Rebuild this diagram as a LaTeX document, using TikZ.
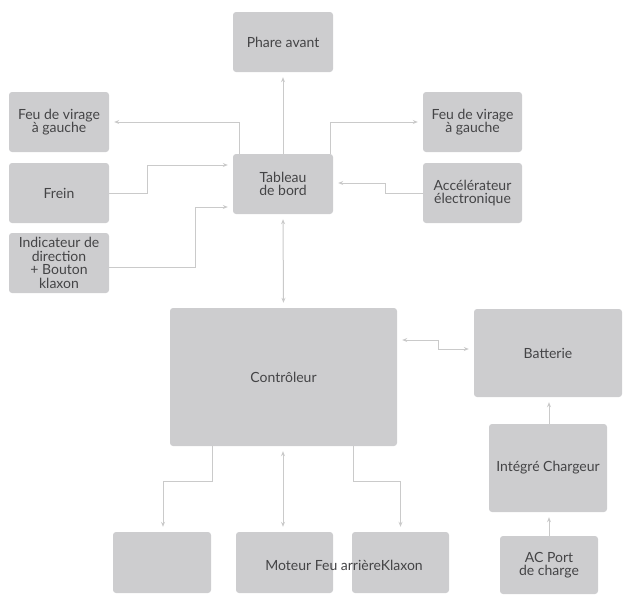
\documentclass[tikz,border=0pt]{standalone}
\usepackage{fontspec}
\setmainfont{Lato}
\usetikzlibrary{arrows.meta}
\definecolor{boxgray}{HTML}{CDCDCF}
\definecolor{linegray}{HTML}{CACACA}
\definecolor{txtgray}{HTML}{444446}
\tikzset{
  blk/.style={fill=boxgray, draw=none, rounded corners=3pt, inner sep=0pt, text=txtgray,
    font=\fontsize{14}{13.5}\selectfont, align=center},
  conn/.style={draw=linegray, line width=1pt, -{Stealth[length=5pt,width=4pt]}, shorten >=5pt},
  conn2/.style={draw=linegray, line width=1pt, {Stealth[length=5pt,width=4pt]}-{Stealth[length=5pt,width=4pt]}, shorten >=5pt, shorten <=5pt},
}
\begin{document}
\begin{tikzpicture}[x=1pt,y=-1pt]
\useasboundingbox (0,0) rectangle (623,595);
% boxes (centre, size)
\node[blk, minimum width=100pt, minimum height=60pt] (phare) at (283,42) {Phare avant};
\node[blk, minimum width=100pt, minimum height=60pt] (feuL) at (59,122) {Feu de virage\\à gauche};
\node[blk, minimum width=100pt, minimum height=60pt] (frein) at (59,193) {Frein};
\node[blk, minimum width=100pt, minimum height=60pt] (indic) at (59,263) {Indicateur de\\direction\\+ Bouton\\klaxon};
\node[blk, minimum width=100pt, minimum height=60pt] (tab) at (283,184) {Tableau\\de bord};
\node[blk, minimum width=99pt, minimum height=60pt] (feuR) at (472.5,122) {Feu de virage\\à gauche};
\node[blk, minimum width=99pt, minimum height=60pt] (acc) at (472.5,193) {Accélérateur\\électronique};
\node[blk, minimum width=227pt, minimum height=138pt] (ctrl) at (283.5,377) {Contrôleur};
\node[blk, minimum width=148pt, minimum height=88pt] (batt) at (548,353) {Batterie};
\node[blk, minimum width=118pt, minimum height=88pt] (charg) at (548,468) {Intégré Chargeur};
\node[blk, minimum width=98pt, minimum height=58pt] (acport) at (549,565) {AC Port\\de charge};
\node[blk, minimum width=98pt, minimum height=61pt] (b1) at (162,562.5) {};
\node[blk, minimum width=97pt, minimum height=61pt] (mot) at (284.5,562.5) {};
\node[blk, minimum width=97pt, minimum height=61pt] (klax) at (400.5,562.5) {};
\node[text=txtgray, font=\fontsize{14}{13.5}\selectfont, inner sep=0pt] (motlbl) at (344,565) {Moteur Feu arrièreKlaxon};
% connectors
\draw[conn] (tab.north) -- (phare.south);
\draw[conn] (tab.north -| 239,0) |- (feuL.east |- 0,122);
\draw[conn] (tab.north -| 330,0) |- (feuR.west |- 0,122);
\draw[conn] (frein.east) -- (147,193) |- (tab.west |- 0,165);
\draw[conn] (indic.east |- 0,267) -- (195,267) |- (tab.west |- 0,207);
\draw[conn] (acc.west) -- (385,193) |- (tab.east |- 0,183);
\draw[conn2] (tab.south) -- (ctrl.north);
\draw[conn2] (ctrl.east |- 0,340) -- (438,340) |- (batt.west |- 0,349);
\draw[conn] (charg.north -| 549,0) -- (batt.south -| 549,0);
\draw[conn] (acport.north) -- (charg.south -| 549,0);
\draw[conn] (ctrl.south -| 212,0) -- (212,481) -| (b1.north -| 163,0);
\draw[conn2] (ctrl.south -| 283,0) -- (mot.north -| 283,0);
\draw[conn] (ctrl.south -| 353,0) -- (353,481) -| (klax.north);
\end{tikzpicture}
\end{document}
